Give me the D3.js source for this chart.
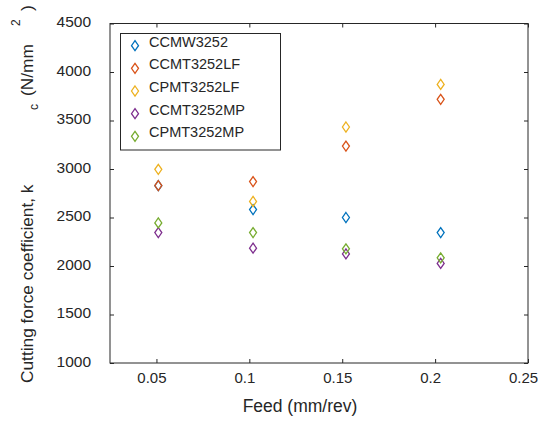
<!DOCTYPE html>
<html>
<head>
<meta charset="utf-8">
<script src="https://cdn.jsdelivr.net/npm/d3@7"></script>
<style>
  body { margin: 0; background: #fff; }
  text { font-family: "Liberation Sans", Arial, sans-serif; fill: #262626; }
</style>
</head>
<body>
<div id="chart"></div>
<script>
// feed values (mm/rev) and cutting force coefficient per insert
var feeds = [0.051, 0.102, 0.152, 0.203];
var seriesNames = ["CCMW3252", "CCMT3252LF", "CPMT3252LF", "CCMT3252MP", "CPMT3252MP"];
var seriesColors = ["#0072BD", "#D95319", "#EDB120", "#7E2F8E", "#77AC30"];
var ccmw3252   = [2828, 2582, 2500, 2345];
var ccmt3252lf = [2829, 2870, 3237, 3718];
var cpmt3252lf = [2997, 2665, 3433, 3872];
var ccmt3252mp = [2345, 2184, 2125, 2026];
var cpmt3252mp = [2444, 2345, 2177, 2084];
var xTicks = [0.05, 0.1, 0.15, 0.2, 0.25];
var yTicks = [1000, 1500, 2000, 2500, 3000, 3500, 4000, 4500];

var allSeries = [ccmw3252, ccmt3252lf, cpmt3252lf, ccmt3252mp, cpmt3252mp];

var W = 538, H = 423;
var mLeft = 110, mRight = 528, mTop = 23.5, mBottom = 363;

var svg = d3.select("#chart").append("svg")
    .attr("width", W)
    .attr("height", H);

var x = d3.scaleLinear().domain([0.025, 0.25]).range([mLeft, mRight]);
var y = d3.scaleLinear().domain([1000, 4500]).range([mBottom, mTop]);

var axisColor = "#262626";

// bottom axis (ticks inward)
var gx = svg.append("g")
    .attr("transform", "translate(0," + mBottom + ")")
    .call(d3.axisBottom(x).tickValues(xTicks).tickSize(-4)
        .tickFormat(function(d) { return String(+d.toFixed(2)); }));
gx.selectAll("text").style("font-size", "15px").attr("dy", "0.71em").attr("y", 9).attr("dx", -5);
// top axis
var gxt = svg.append("g")
    .attr("transform", "translate(0," + mTop + ")")
    .call(d3.axisTop(x).tickValues(xTicks).tickSize(-4).tickFormat(""));
// left axis
var gy = svg.append("g")
    .attr("transform", "translate(" + mLeft + ",0)")
    .call(d3.axisLeft(y).tickValues(yTicks).tickSize(-4).tickPadding(19).tickFormat(d3.format("d")));
gy.selectAll("text").style("font-size", "15.5px").attr("dy", "0.2em");
// right axis
var gyr = svg.append("g")
    .attr("transform", "translate(" + mRight + ",0)")
    .call(d3.axisRight(y).tickValues(yTicks).tickSize(-4).tickFormat(""));

[gx, gxt, gy, gyr].forEach(function(g) {
    g.selectAll("line").attr("stroke", axisColor).attr("stroke-width", 1);
    g.selectAll("text").attr("fill", axisColor);
    g.select(".domain").remove();
});
// box
svg.append("rect")
    .attr("x", mLeft).attr("y", mTop)
    .attr("width", mRight - mLeft).attr("height", mBottom - mTop)
    .attr("fill", "none").attr("stroke", axisColor).attr("stroke-width", 1);

// diamond markers
var diamond = "M0,-5L3.5,0L0,5L-3.5,0Z";

allSeries.forEach(function(vals, i) {
    svg.append("g").selectAll("path")
        .data(vals)
        .enter()
        .append("path")
            .attr("d", diamond)
            .attr("transform", function(d, j) { return "translate(" + x(feeds[j]) + "," + y(d) + ")"; })
            .attr("fill", "none")
            .attr("stroke", seriesColors[i])
            .attr("stroke-width", 1.3);
});

// axis labels
svg.append("text")
    .attr("x", 300)
    .attr("y", 412)
    .attr("text-anchor", "middle")
    .style("font-size", "17.5px")
    .text("Feed (mm/rev)");

var yl = svg.append("text")
    .attr("transform", "translate(33,383) rotate(-90)")
    .style("font-size", "17.3px");
yl.append("tspan").attr("x", 0).text("Cutting force coefficient, k");
yl.append("tspan").attr("x", 273).attr("dy", 5).style("font-size", "12px").text("c");
yl.append("tspan").attr("x", 287).attr("dy", -5).text("(N/mm");
yl.append("tspan").attr("x", 357).attr("dy", -13).style("font-size", "12px").text("2");
yl.append("tspan").attr("x", 372).attr("dy", 13).text(")");

// legend
var lg = svg.append("g");
lg.append("rect")
    .attr("x", 120.5).attr("y", 33.5)
    .attr("width", 160).attr("height", 116.5)
    .attr("fill", "#fff").attr("stroke", axisColor).attr("stroke-width", 1);

var rowY = d3.scaleLinear().domain([0, 4]).range([46.7, 137.3]);
seriesNames.forEach(function(name, i) {
    lg.append("path")
        .attr("d", diamond)
        .attr("transform", "translate(135," + (rowY(i) - 1) + ")")
        .attr("fill", "none")
        .attr("stroke", seriesColors[i])
        .attr("stroke-width", 1.3);
    lg.append("text")
        .attr("x", 149)
        .attr("y", rowY(i))
        .style("font-size", "14.5px")
        .text(name);
});
</script>
</body>
</html>
